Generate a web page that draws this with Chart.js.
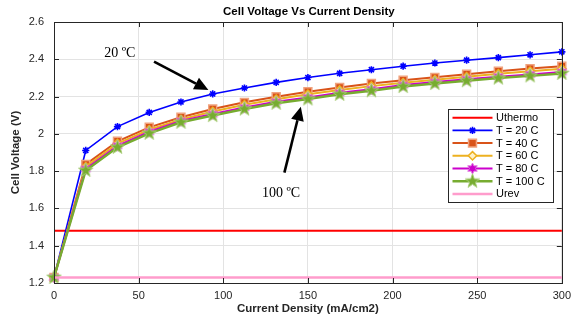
<!DOCTYPE html>
<html>
<head>
<meta charset="utf-8">
<script src="https://cdn.jsdelivr.net/npm/chart.js@4.4.1/dist/chart.umd.min.js"></script>
<style>
html,body{margin:0;padding:0;background:#fff;}
#c{display:block;}
</style>
</head>
<body>
<canvas id="c" width="577" height="319"></canvas>
<script>
// ---- data ----
const currentDensity = [0, 18.75, 37.5, 56.25, 75, 93.75, 112.5, 131.25, 150, 168.75, 187.5, 206.25, 225, 243.75, 262.5, 281.25, 300];
const vT20  = [1.23, 1.911, 2.039, 2.115, 2.171, 2.214, 2.246, 2.276, 2.302, 2.325, 2.344, 2.363, 2.380, 2.395, 2.409, 2.424, 2.440];
const vT40  = [1.23, 1.836, 1.960, 2.035, 2.089, 2.133, 2.169, 2.199, 2.226, 2.249, 2.270, 2.288, 2.303, 2.320, 2.336, 2.350, 2.363];
const vT60  = [1.23, 1.824, 1.948, 2.022, 2.077, 2.120, 2.156, 2.186, 2.212, 2.235, 2.256, 2.274, 2.290, 2.306, 2.322, 2.336, 2.349];
const vT80  = [1.23, 1.812, 1.936, 2.011, 2.069, 2.106, 2.141, 2.172, 2.195, 2.220, 2.239, 2.262, 2.278, 2.293, 2.307, 2.319, 2.332];
const vT100 = [1.23, 1.804, 1.928, 2.003, 2.062, 2.098, 2.133, 2.164, 2.187, 2.212, 2.231, 2.254, 2.270, 2.285, 2.299, 2.311, 2.324];
const uthermoX = [0, 300];
const uthermoV = [1.48, 1.48];
const urevX = [0, 300];
const urevV = [1.229, 1.229];
const seriesLabels = ['Uthermo', 'T = 20 C', 'T = 40 C', 'T = 60 C', 'T = 80 C', 'T = 100 C', 'Urev'];
const xTicks = [0, 50, 100, 150, 200, 250, 300];
const yTicks = [1.2, 1.4, 1.6, 1.8, 2.0, 2.2, 2.4, 2.6];
const yTickLabels = ['1.2', '1.4', '1.6', '1.8', '2', '2.2', '2.4', '2.6'];
const chartTitle = 'Cell Voltage Vs Current Density';
const xTitle = 'Current Density (mA/cm2)';
const yTitle = 'Cell Voltage (V)';
// annotations in data units
const annotations = [
  {text: '20 ºC', tx: 38.9, ty: 2.434, ax0: 59.1, ay0: 2.387, ax1: 91.2, ay1: 2.235},
  {text: '100 ºC', tx: 134.1, ty: 1.683, ax0: 136.1, ay0: 1.792, ax1: 145.8, ay1: 2.146}
];

// ---- marker images ----
function starCanvas(points, outer, inner, fill, stroke, lw) {
  const s = Math.ceil(outer * 2 + lw * 2 + 2);
  const cv = document.createElement('canvas');
  cv.width = s; cv.height = s;
  const g = cv.getContext('2d');
  g.beginPath();
  for (let i = 0; i < points * 2; i++) {
    const r = i % 2 === 0 ? outer : inner;
    const a = -Math.PI / 2 + i * Math.PI / points;
    const px = s / 2 + r * Math.cos(a), py = s / 2 + r * Math.sin(a);
    if (i === 0) g.moveTo(px, py); else g.lineTo(px, py);
  }
  g.closePath();
  g.fillStyle = fill; g.fill();
  g.lineWidth = lw; g.strokeStyle = stroke; g.stroke();
  return cv;
}
const pentagram = starCanvas(5, 7.5, 3.0, '#77ac30', '#a8cc78', 1);
const hexagram = starCanvas(6, 5.5, 3.0, '#cc00cc', '#e070e0', 1);

const FONT = 'Arial, "Liberation Sans", Helvetica, sans-serif';

function mk(label, xs, ys, o) {
  return Object.assign({
    label: label,
    data: xs.map((x, i) => ({x: x, y: ys[i]})),
    showLine: true,
    fill: false,
    tension: 0,
    clip: false
  }, o);
}

const datasets = [
  mk(seriesLabels[0], uthermoX, uthermoV, {borderColor: '#ff0000', borderWidth: 2, pointRadius: 0, order: 7}),
  mk(seriesLabels[1], currentDensity, vT20, {borderColor: '#0000ff', borderWidth: 1.6, pointStyle: 'star', pointRadius: 3.6, pointBorderWidth: 1.6, pointBorderColor: '#0000ff', pointBackgroundColor: '#0000ff', order: 6}),
  mk(seriesLabels[2], currentDensity, vT40, {borderColor: '#d95319', borderWidth: 2, pointStyle: 'rect', pointRadius: 5.6, pointBorderWidth: 1.5, pointBorderColor: '#f0a27e', pointBackgroundColor: '#d95319', order: 5}),
  mk(seriesLabels[3], currentDensity, vT60, {borderColor: '#edb120', borderWidth: 2, pointStyle: 'rectRot', pointRadius: 4.2, pointBorderWidth: 1.5, pointBorderColor: '#edb120', pointBackgroundColor: '#fff1c8', order: 4}),
  mk(seriesLabels[4], currentDensity, vT80, {borderColor: '#cc00cc', borderWidth: 2, pointStyle: hexagram, pointRadius: 5, order: 3}),
  mk(seriesLabels[5], currentDensity, vT100, {borderColor: '#77ac30', borderWidth: 2.5, pointStyle: pentagram, pointRadius: 7, order: 2}),
  mk(seriesLabels[6], urevX, urevV, {borderColor: '#ff9ccc', borderWidth: 2.5, pointRadius: 0, order: 1})
];

function drawMarker(ctx, ds, x, y) {
  const st = ds.pointStyle;
  if (!st || !ds.pointRadius) return;
  if (typeof st !== 'string') {
    ctx.drawImage(st, x - st.width / 2, y - st.height / 2);
    return;
  }
  ctx.save();
  ctx.fillStyle = ds.pointBackgroundColor;
  ctx.strokeStyle = ds.pointBorderColor;
  ctx.lineWidth = ds.pointBorderWidth;
  const r = ds.pointRadius;
  ctx.beginPath();
  if (st === 'rect') {
    const s = r * Math.SQRT1_2;
    ctx.rect(x - s, y - s, 2 * s, 2 * s);
    ctx.fill(); ctx.stroke();
  } else if (st === 'rectRot') {
    ctx.moveTo(x, y - r); ctx.lineTo(x + r, y); ctx.lineTo(x, y + r); ctx.lineTo(x - r, y); ctx.closePath();
    ctx.fill(); ctx.stroke();
  } else if (st === 'star') {
    const d = r * Math.SQRT1_2;
    ctx.moveTo(x - r, y); ctx.lineTo(x + r, y);
    ctx.moveTo(x, y - r); ctx.lineTo(x, y + r);
    ctx.moveTo(x - d, y - d); ctx.lineTo(x + d, y + d);
    ctx.moveTo(x - d, y + d); ctx.lineTo(x + d, y - d);
    ctx.stroke();
  }
  ctx.restore();
}

const decorPlugin = {
  id: 'decor',
  afterDraw(chart) {
    const ctx = chart.ctx;
    const a = chart.chartArea;
    const xs = chart.scales.x, ys = chart.scales.y;
    ctx.save();
    // title
    ctx.fillStyle = '#000';
    ctx.font = 'bold 11.5px ' + FONT;
    ctx.textAlign = 'center'; ctx.textBaseline = 'middle';
    ctx.fillText(chartTitle, (a.left + a.right) / 2 + 1, 12);
    // box
    ctx.strokeStyle = '#262626'; ctx.lineWidth = 1;
    ctx.strokeRect(Math.round(a.left) + 0.5, Math.round(a.top) + 0.5, Math.round(a.right - a.left), Math.round(a.bottom - a.top));
    // inward ticks
    ctx.beginPath();
    xTicks.forEach(v => {
      const px = Math.round(xs.getPixelForValue(v)) + 0.5;
      ctx.moveTo(px, a.bottom); ctx.lineTo(px, a.bottom - 5);
      ctx.moveTo(px, a.top); ctx.lineTo(px, a.top + 5);
    });
    yTicks.forEach(v => {
      const py = Math.round(ys.getPixelForValue(v)) + 0.5;
      ctx.moveTo(a.left, py); ctx.lineTo(a.left + 5, py);
      ctx.moveTo(a.right, py); ctx.lineTo(a.right - 5, py);
    });
    ctx.stroke();
    // annotations
    annotations.forEach(an => {
      ctx.fillStyle = '#000';
      ctx.font = '14px "Liberation Serif", "Times New Roman", serif';
      ctx.textAlign = 'center'; ctx.textBaseline = 'middle';
      ctx.fillText(an.text, xs.getPixelForValue(an.tx), ys.getPixelForValue(an.ty));
      const x0 = xs.getPixelForValue(an.ax0), y0 = ys.getPixelForValue(an.ay0);
      const x1 = xs.getPixelForValue(an.ax1), y1 = ys.getPixelForValue(an.ay1);
      const ang = Math.atan2(y1 - y0, x1 - x0);
      const hl = 14, hw = 6.5;
      const bx = x1 - hl * Math.cos(ang), by = y1 - hl * Math.sin(ang);
      ctx.strokeStyle = '#000'; ctx.lineWidth = 2.6;
      ctx.beginPath(); ctx.moveTo(x0, y0); ctx.lineTo(bx, by); ctx.stroke();
      ctx.beginPath();
      ctx.moveTo(x1, y1);
      ctx.lineTo(bx + hw * Math.sin(ang), by - hw * Math.cos(ang));
      ctx.lineTo(bx - hw * Math.sin(ang), by + hw * Math.cos(ang));
      ctx.closePath(); ctx.fillStyle = '#000'; ctx.fill();
    });
    // legend
    const lx = 448.5, ly = 109.5, lw = 105, lh = 93;
    ctx.fillStyle = '#fff';
    ctx.fillRect(lx, ly, lw, lh);
    ctx.strokeStyle = '#262626'; ctx.lineWidth = 1;
    ctx.strokeRect(lx, ly, lw, lh);
    const dsList = chart.data.datasets;
    dsList.forEach((ds, i) => {
      const yy = 117.7 + i * 12.7;
      ctx.strokeStyle = ds.borderColor; ctx.lineWidth = ds.borderWidth;
      ctx.beginPath(); ctx.moveTo(452.5, yy); ctx.lineTo(492.5, yy); ctx.stroke();
      drawMarker(ctx, ds, 472.5, yy);
      ctx.fillStyle = '#000';
      ctx.font = '11px ' + FONT;
      ctx.textAlign = 'left'; ctx.textBaseline = 'middle';
      ctx.fillText(ds.label, 496, yy + 0.5);
    });
    ctx.restore();
  }
};

new Chart(document.getElementById('c'), {
  type: 'scatter',
  data: {datasets: datasets},
  options: {
    responsive: false,
    animation: false,
    devicePixelRatio: 1,
    layout: {padding: {top: 22, right: 10, left: 0, bottom: 0}},
    plugins: {legend: {display: false}, tooltip: {enabled: false}, title: {display: false}},
    scales: {
      x: {
        type: 'linear', min: 0, max: 300,
        afterFit(s) { s.height = 36; },
        afterBuildTicks(s) { s.ticks = xTicks.map(v => ({value: v})); },
        grid: {color: '#e3e3e3', lineWidth: 1, drawTicks: false},
        border: {display: false},
        ticks: {color: '#262626', font: {family: FONT, size: 11}, padding: 6, maxRotation: 0, callback: (v) => String(v)},
        title: {display: true, text: xTitle, color: '#262626', font: {family: FONT, size: 11.5, weight: 'bold'}, padding: {top: 0, bottom: 3}}
      },
      y: {
        type: 'linear', min: 1.2, max: 2.6,
        afterFit(s) { s.width = 54; },
        afterBuildTicks(s) { s.ticks = yTicks.map(v => ({value: v})); },
        grid: {color: '#e3e3e3', lineWidth: 1, drawTicks: false},
        border: {display: false},
        ticks: {color: '#262626', font: {family: FONT, size: 11}, padding: 10,
          callback: (v) => { const i = yTicks.findIndex(t => Math.abs(t - v) < 1e-6); return i >= 0 ? yTickLabels[i] : ''; }},
        title: {display: true, text: yTitle, color: '#262626', font: {family: FONT, size: 11.5, weight: 'bold'}, padding: {top: 9, bottom: 0}}
      }
    }
  },
  plugins: [decorPlugin]
});
</script>
</body>
</html>
